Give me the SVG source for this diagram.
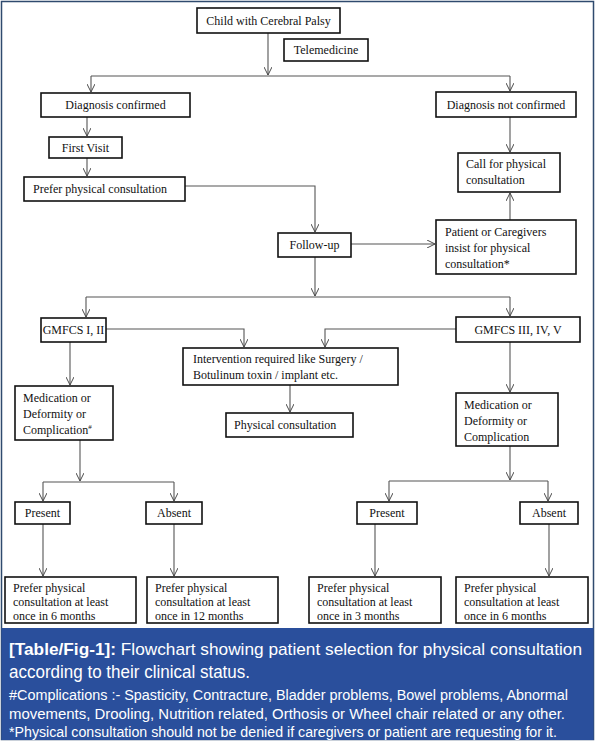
<svg xmlns="http://www.w3.org/2000/svg" width="596" height="743" viewBox="0 0 596 743">
<defs>
<marker id="ah" viewBox="0 0 10 10" refX="10" refY="5" markerWidth="8" markerHeight="8" markerUnits="userSpaceOnUse" orient="auto">
<path d="M0,0 L10,5 L0,10" fill="none" stroke="#444" stroke-width="1.2"/>
</marker>
<style>
.box{fill:#fff;stroke:#111;stroke-width:1.6}
.t{font-family:"Liberation Serif","Times New Roman",serif;font-size:12px;fill:#111}
.c{text-anchor:middle}
.ln{fill:none;stroke:#555;stroke-width:1.1}
.ar{fill:none;stroke:#555;stroke-width:1.1;marker-end:url(#ah)}
.cap{font-family:"Liberation Sans",Arial,sans-serif;fill:#fff}
</style>
</defs>
<rect x="0" y="0" width="596" height="743" fill="#fff"/>
<rect x="1.5" y="1.5" width="592" height="738" fill="#fff" stroke="#2f4a6e" stroke-width="1.5"/>

<g id="connectors">
<path class="ar" d="M268,33 V75"/>
<path class="ln" d="M91,76 H510"/>
<path class="ar" d="M91,76 V92"/>
<path class="ar" d="M510,76 V91"/>
<path class="ar" d="M87,117 V136"/>
<path class="ar" d="M87,158 V176"/>
<path class="ar" d="M185,186 H315 V232"/>
<path class="ar" d="M351,244 H435"/>
<path class="ar" d="M510,220 V193"/>
<path class="ar" d="M510,117 V152"/>
<path class="ar" d="M315,257 V296"/>
<path class="ln" d="M86,297 H510"/>
<path class="ar" d="M86,297 V317"/>
<path class="ar" d="M510,297 V316"/>
<path class="ar" d="M106,329 H244 V347"/>
<path class="ar" d="M456,329 H325 V347"/>
<path class="ar" d="M70,342 V385"/>
<path class="ar" d="M510,342 V392"/>
<path class="ar" d="M290,385 V412"/>
<path class="ar" d="M80,440 V481"/>
<path class="ln" d="M43,482 H174"/>
<path class="ar" d="M43,482 V501"/>
<path class="ar" d="M174,482 V501"/>
<path class="ar" d="M510,446 V480"/>
<path class="ln" d="M389,481 H548"/>
<path class="ar" d="M389,481 V501"/>
<path class="ar" d="M548,481 V501"/>
<path class="ar" d="M43,524 V576"/>
<path class="ar" d="M174,524 V576"/>
<path class="ar" d="M375,524 V576"/>
<path class="ar" d="M549,524 V576"/>
</g>

<g id="n-child"><rect class="box" x="197" y="8" width="143" height="25"/><text class="t c" x="268.5" y="25">Child with Cerebral Palsy</text></g>
<g id="n-tele"><rect class="box" x="284" y="39" width="84" height="22"/><text class="t c" x="326" y="54">Telemedicine</text></g>
<g id="n-diagc"><rect class="box" x="41" y="93" width="149" height="24"/><text class="t c" x="115.5" y="109">Diagnosis confirmed</text></g>
<g id="n-diagn"><rect class="box" x="436" y="92" width="140" height="25"/><text class="t c" x="506" y="109">Diagnosis not confirmed</text></g>
<g id="n-first"><rect class="box" x="49" y="137" width="73" height="21"/><text class="t c" x="85.5" y="152">First Visit</text></g>
<g id="n-prefer"><rect class="box" x="24" y="177" width="161" height="24"/><text class="t" x="33" y="193">Prefer physical consultation</text></g>
<g id="n-call"><rect class="box" x="458" y="153" width="102" height="39"/><text class="t" x="466" y="168">Call for physical</text><text class="t" x="466" y="184">consultation</text></g>
<g id="n-follow"><rect class="box" x="278" y="233" width="73" height="24"/><text class="t c" x="314.5" y="249">Follow-up</text></g>
<g id="n-insist"><rect class="box" x="436" y="220" width="140" height="54"/><text class="t" x="445" y="236">Patient or Caregivers</text><text class="t" x="445" y="252">insist for physical</text><text class="t" x="445" y="268">consultation*</text></g>
<g id="n-gm12"><rect class="box" x="41" y="318" width="65" height="24"/><text class="t c" x="73.5" y="334">GMFCS I, II</text></g>
<g id="n-gm345"><rect class="box" x="456" y="317" width="124" height="25"/><text class="t c" x="518" y="334">GMFCS III, IV, V</text></g>
<g id="n-interv"><rect class="box" x="183" y="348" width="215" height="37"/><text class="t" x="193" y="363">Intervention required like Surgery /</text><text class="t" x="193" y="379">Botulinum toxin / implant etc.</text></g>
<g id="n-phys"><rect class="box" x="226" y="413" width="127" height="24"/><text class="t" x="234" y="429">Physical consultation</text></g>
<g id="n-medl"><rect class="box" x="15" y="386" width="98" height="54"/><text class="t" x="23" y="402">Medication or</text><text class="t" x="23" y="418">Deformity or</text><text class="t" x="23" y="434">Complication<tspan font-size="7" dy="-5">#</tspan></text></g>
<g id="n-medr"><rect class="box" x="456" y="393" width="102" height="53"/><text class="t" x="464" y="409">Medication or</text><text class="t" x="464" y="425">Deformity or</text><text class="t" x="464" y="441">Complication</text></g>
<g id="n-presl"><rect class="box" x="15" y="502" width="55" height="22"/><text class="t c" x="42.5" y="517">Present</text></g>
<g id="n-absl"><rect class="box" x="146" y="502" width="56" height="22"/><text class="t c" x="174" y="517">Absent</text></g>
<g id="n-presr"><rect class="box" x="357" y="502" width="60" height="22"/><text class="t c" x="387" y="517">Present</text></g>
<g id="n-absr"><rect class="box" x="520" y="502" width="58" height="22"/><text class="t c" x="549" y="517">Absent</text></g>
<g id="n-b1"><rect class="box" x="5" y="577" width="131" height="46"/><text class="t" x="13" y="592">Prefer physical</text><text class="t" x="13" y="606">consultation at least</text><text class="t" x="13" y="620">once in 6 months</text></g>
<g id="n-b2"><rect class="box" x="147" y="577" width="131" height="46"/><text class="t" x="155" y="592">Prefer physical</text><text class="t" x="155" y="606">consultation at least</text><text class="t" x="155" y="620">once in 12 months</text></g>
<g id="n-b3"><rect class="box" x="309" y="577" width="132" height="46"/><text class="t" x="317" y="592">Prefer physical</text><text class="t" x="317" y="606">consultation at least</text><text class="t" x="317" y="620">once in 3 months</text></g>
<g id="n-b4"><rect class="box" x="456" y="577" width="132" height="46"/><text class="t" x="464" y="592">Prefer physical</text><text class="t" x="464" y="606">consultation at least</text><text class="t" x="464" y="620">once in 6 months</text></g>

<g id="caption">
<rect x="1.5" y="628" width="592" height="112" fill="#2a4f9c"/>
<text class="cap" x="9" y="655" font-size="17" textLength="573" lengthAdjust="spacingAndGlyphs"><tspan font-weight="bold">[Table/Fig-1]:</tspan> Flowchart showing patient selection for physical consultation</text>
<text class="cap" x="9" y="678" font-size="17.5" textLength="241" lengthAdjust="spacingAndGlyphs">according to their clinical status.</text>
<text class="cap" x="9" y="700" font-size="14" textLength="559" lengthAdjust="spacingAndGlyphs">#Complications :- Spasticity, Contracture, Bladder problems, Bowel problems, Abnormal</text>
<text class="cap" x="9" y="719" font-size="14" textLength="556" lengthAdjust="spacingAndGlyphs">movements, Drooling, Nutrition related, Orthosis or Wheel chair related or any other.</text>
<text class="cap" x="9" y="737" font-size="14" textLength="548" lengthAdjust="spacingAndGlyphs">*Physical consultation should not be denied if caregivers or patient are requesting for it.</text>
</g>
</svg>
